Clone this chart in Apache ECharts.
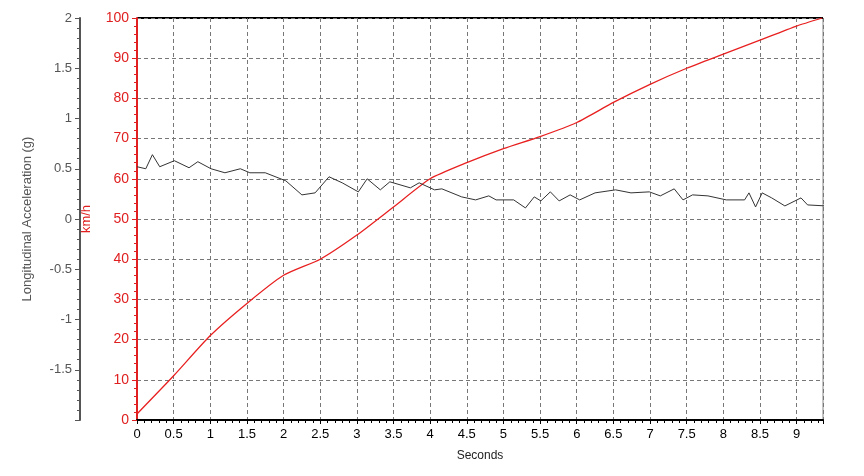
<!DOCTYPE html>
<html><head><meta charset="utf-8">
<script src="https://cdn.jsdelivr.net/npm/echarts@6/dist/echarts.min.js"></script>
<style>html,body{margin:0;background:#fff}#c{width:864px;height:476px}</style>
</head><body><div id="c"></div>
<script>
const speedT = [0,0.5,1,1.5,2,2.5,3,3.5,4,4.5,5,5.5,6,6.5,7,7.5,8,8.5,9,9.35];
const speedV = [1.5,11,21,29,36,40,46,53,60,64,67.5,70.5,74,79,83.5,87.5,91,94.5,98,100];
const accT = [0,0.12,0.21,0.31,0.51,0.71,0.83,1.01,1.2,1.41,1.54,1.75,2.03,2.25,2.43,2.62,2.8,3.02,3.14,3.32,3.45,3.73,3.85,4.06,4.16,4.43,4.62,4.8,4.9,5.14,5.3,5.42,5.51,5.64,5.76,5.91,6.04,6.25,6.53,6.74,6.99,7.14,7.33,7.45,7.58,7.79,8.04,8.29,8.35,8.44,8.53,8.66,8.84,9.06,9.15,9.4];
const accV = [0.52,0.50,0.64,0.52,0.58,0.51,0.57,0.50,0.46,0.50,0.46,0.46,0.38,0.24,0.26,0.42,0.36,0.27,0.40,0.29,0.37,0.31,0.36,0.29,0.30,0.22,0.19,0.23,0.19,0.19,0.11,0.22,0.18,0.27,0.18,0.24,0.19,0.26,0.29,0.26,0.27,0.23,0.30,0.19,0.24,0.23,0.19,0.19,0.26,0.12,0.26,0.21,0.13,0.21,0.14,0.13];
const font = 'Liberation Sans, Arial, sans-serif';
const chart = echarts.init(document.getElementById('c'));
chart.setOption({
  animation:false,
  grid:{left:137,right:41,top:18,bottom:56,show:true,borderColor:'#888',borderWidth:1},
  xAxis:{type:'value',min:0,max:9.36,interval:0.5,name:'Seconds',nameLocation:'middle',nameGap:30,
    nameTextStyle:{color:'#222',fontSize:12,fontFamily:font},
    axisLine:{onZero:false,lineStyle:{color:'#000',width:2}},
    axisTick:{show:true,length:4,lineStyle:{color:'#000'}},
    minorTick:{show:true,splitNumber:5,length:3,lineStyle:{color:'#000'}},
    axisLabel:{color:'#000',fontSize:13,fontFamily:font,margin:8,showMaxLabel:false,formatter:v=>String(v)},
    splitLine:{show:true,lineStyle:{color:'#777',type:[4,3]}}},
  yAxis:[
    {type:'value',min:-2,max:2,interval:0.5,position:'left',offset:57,
     name:'Longitudinal Acceleration (g)',nameLocation:'middle',nameGap:46,
     nameTextStyle:{color:'#555',fontSize:13,fontFamily:font},
     axisLine:{show:true,onZero:false,lineStyle:{color:'#555',width:2}},
     axisTick:{show:true,length:5,lineStyle:{color:'#555'}},
     minorTick:{show:true,splitNumber:5,length:3,lineStyle:{color:'#555'}},
     axisLabel:{color:'#555',fontSize:13,fontFamily:font,showMinLabel:false},
     splitLine:{show:false}},
    {type:'value',min:0,max:100,interval:10,position:'left',offset:0,
     name:'km/h',nameLocation:'middle',nameGap:44,
     nameTextStyle:{color:'#e02020',fontSize:13,fontFamily:font},
     axisLine:{show:true,onZero:false,lineStyle:{color:'#e02020',width:2}},
     axisTick:{show:true,length:5,lineStyle:{color:'#e02020'}},
     minorTick:{show:true,splitNumber:5,length:3,lineStyle:{color:'#e02020'}},
     axisLabel:{color:'#e02020',fontSize:14,fontFamily:font},
     splitLine:{show:true,lineStyle:{color:'#777',type:[4,3]}}}
  ],
  series:[
    {type:'line',yAxisIndex:1,data:speedT.map((t,i)=>[t,speedV[i]]),showSymbol:false,smooth:0.2,
     lineStyle:{color:'#e82020',width:1.3}},
    {type:'line',yAxisIndex:0,data:accT.map((t,i)=>[t,accV[i]]),showSymbol:false,
     lineStyle:{color:'#333',width:1}}
  ],
  graphic:[{type:'line',shape:{x1:137,y1:18,x2:823,y2:18},style:{stroke:'#000',lineWidth:2}}]
});
</script></body></html>
